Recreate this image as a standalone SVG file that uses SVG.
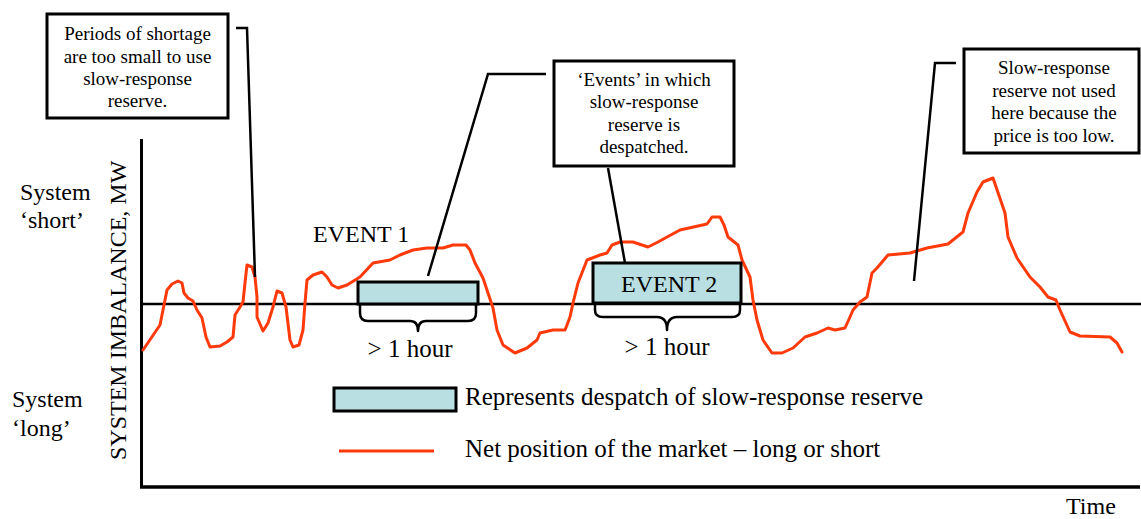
<svg xmlns="http://www.w3.org/2000/svg" width="1141" height="519" viewBox="0 0 1141 519">
<style>
text{font-family:"Liberation Serif","Times New Roman",serif;fill:#000}
.lbl{font-size:24px}
.big{font-size:25px}
.box{font-size:19px;text-anchor:middle}
.note{fill:#fff;stroke:#000;stroke-width:3}
.lead{fill:none;stroke:#000;stroke-width:2.5;stroke-linejoin:miter}
.ev{fill:#b9dfe3;stroke:#000;stroke-width:3}
.brace{fill:none;stroke:#000;stroke-width:2.5;stroke-linejoin:round}
.curve{fill:none;stroke:#ff3a0a;stroke-width:3;stroke-linejoin:round;stroke-linecap:round}
</style>
<rect width="1141" height="519" fill="#fff"/>
<g id="axes">
<line x1="141.5" y1="139" x2="141.5" y2="488" stroke="#000" stroke-width="3"/>
<line x1="140" y1="487" x2="1140" y2="487" stroke="#000" stroke-width="3.5"/>
<line x1="141" y1="304" x2="1141" y2="304" stroke="#000" stroke-width="2.5"/>
</g>
<g id="axis-labels">
<text class="lbl" x="20" y="200">System</text>
<text class="lbl" x="20" y="228">‘short’</text>
<text class="lbl" x="12" y="407">System</text>
<text class="lbl" x="12" y="436">‘long’</text>
<text class="lbl" font-size="24.6" transform="translate(126,460) rotate(-90)">SYSTEM IMBALANCE, MW</text>
<text class="lbl" x="1066" y="514">Time</text>
</g>
<g id="curve">
<polyline class="curve" points="143,350 160,325 163,310 167,290 172,284 178,281 182,283 184,293 188,298 193,301 197,310 202,318 206,337 210,347 220,346 227,342 233,337 235,315 240,307 243,302 245,283 247,265 252,267 255,277 257,297 257,317 263,331 268,323 273,307 277,291 282,293 286,307 290,340 293,347 299,345 303,330 305,303 307,280 313,275 322,272 327,277 332,285 338,288 347,285 360,277 373,263 390,260 400,255 413,250 427,248 443,248 453,245 466,245 470,250 475,263 483,278 488,293 493,308 497,330 503,345 515,353 527,348 537,340 540,333 553,330 565,330 567,325 570,317 573,303 578,283 587,260 600,255 607,253 612,245 620,242 633,242 648,247 658,242 667,237 680,230 707,224 712,217 720,217 724,225 728,237 738,245 742,260 750,277 753,300 757,320 763,340 772,353 782,353 793,348 805,337 817,333 828,328 835,330 845,328 850,317 853,310 860,302 867,297 872,273 877,268 888,255 910,253 927,248 948,244 963,232 968,213 977,192 983,182 993,178 1005,213 1008,237 1017,258 1030,277 1040,287 1048,297 1056,300 1060,310 1070,332 1080,336 1110,337 1117,343 1122,352"/>
</g>
<g id="event1">
<rect class="ev" x="358" y="282" width="120" height="22"/>
<text class="lbl" x="313" y="242">EVENT 1</text>
<path class="brace" d="M360,305 V313 Q360,321 368,321 H410 Q418,321 418,331 Q418,321 426,321 H468 Q476,321 476,313 V305"/>
<text class="big" x="410" y="357" text-anchor="middle">&gt; 1 hour</text>
</g>
<g id="event2">
<rect class="ev" x="593" y="263" width="148" height="40"/>
<text class="lbl" x="621" y="292">EVENT 2</text>
<path class="brace" d="M595,304 V310 Q595,317 603,317 H657 Q667,317 667,330 Q667,317 677,317 H732 Q740,317 740,310 V304"/>
<text class="big" x="667" y="355" text-anchor="middle">&gt; 1 hour</text>
</g>
<g id="connectors">
<polyline class="lead" points="236,28 247,28 255,277"/>
<polyline class="lead" points="546,74 488,74 428,276"/>
<line class="lead" x1="608" y1="168" x2="625" y2="263"/>
<polyline class="lead" points="956,63 935,63 914,281"/>
</g>
<g id="note1">
<rect class="note" x="47" y="14" width="181" height="104"/>
<text class="box" x="137.5" y="40">Periods of shortage</text>
<text class="box" x="137.5" y="63">are too small to use</text>
<text class="box" x="137.5" y="85">slow-response</text>
<text class="box" x="137.5" y="107">reserve.</text>
</g>
<g id="note2">
<rect class="note" x="554" y="61" width="180" height="105"/>
<text class="box" x="644" y="86">‘Events’ in which</text>
<text class="box" x="644" y="108">slow-response</text>
<text class="box" x="644" y="131">reserve is</text>
<text class="box" x="644" y="153">despatched.</text>
</g>
<g id="note3">
<rect class="note" x="964" y="49" width="175" height="104"/>
<text class="box" x="1054" y="74">Slow-response</text>
<text class="box" x="1054" y="97">reserve not used</text>
<text class="box" x="1054" y="119">here because the</text>
<text class="box" x="1054" y="142">price is too low.</text>
</g>
<g id="legend">
<rect class="ev" x="334" y="388" width="122" height="23"/>
<text class="big" x="465" y="405">Represents despatch of slow-response reserve</text>
<line x1="339" y1="451" x2="434" y2="451" stroke="#ff3a0a" stroke-width="3"/>
<text class="big" x="465" y="457">Net position of the market – long or short</text>
</g>
</svg>
